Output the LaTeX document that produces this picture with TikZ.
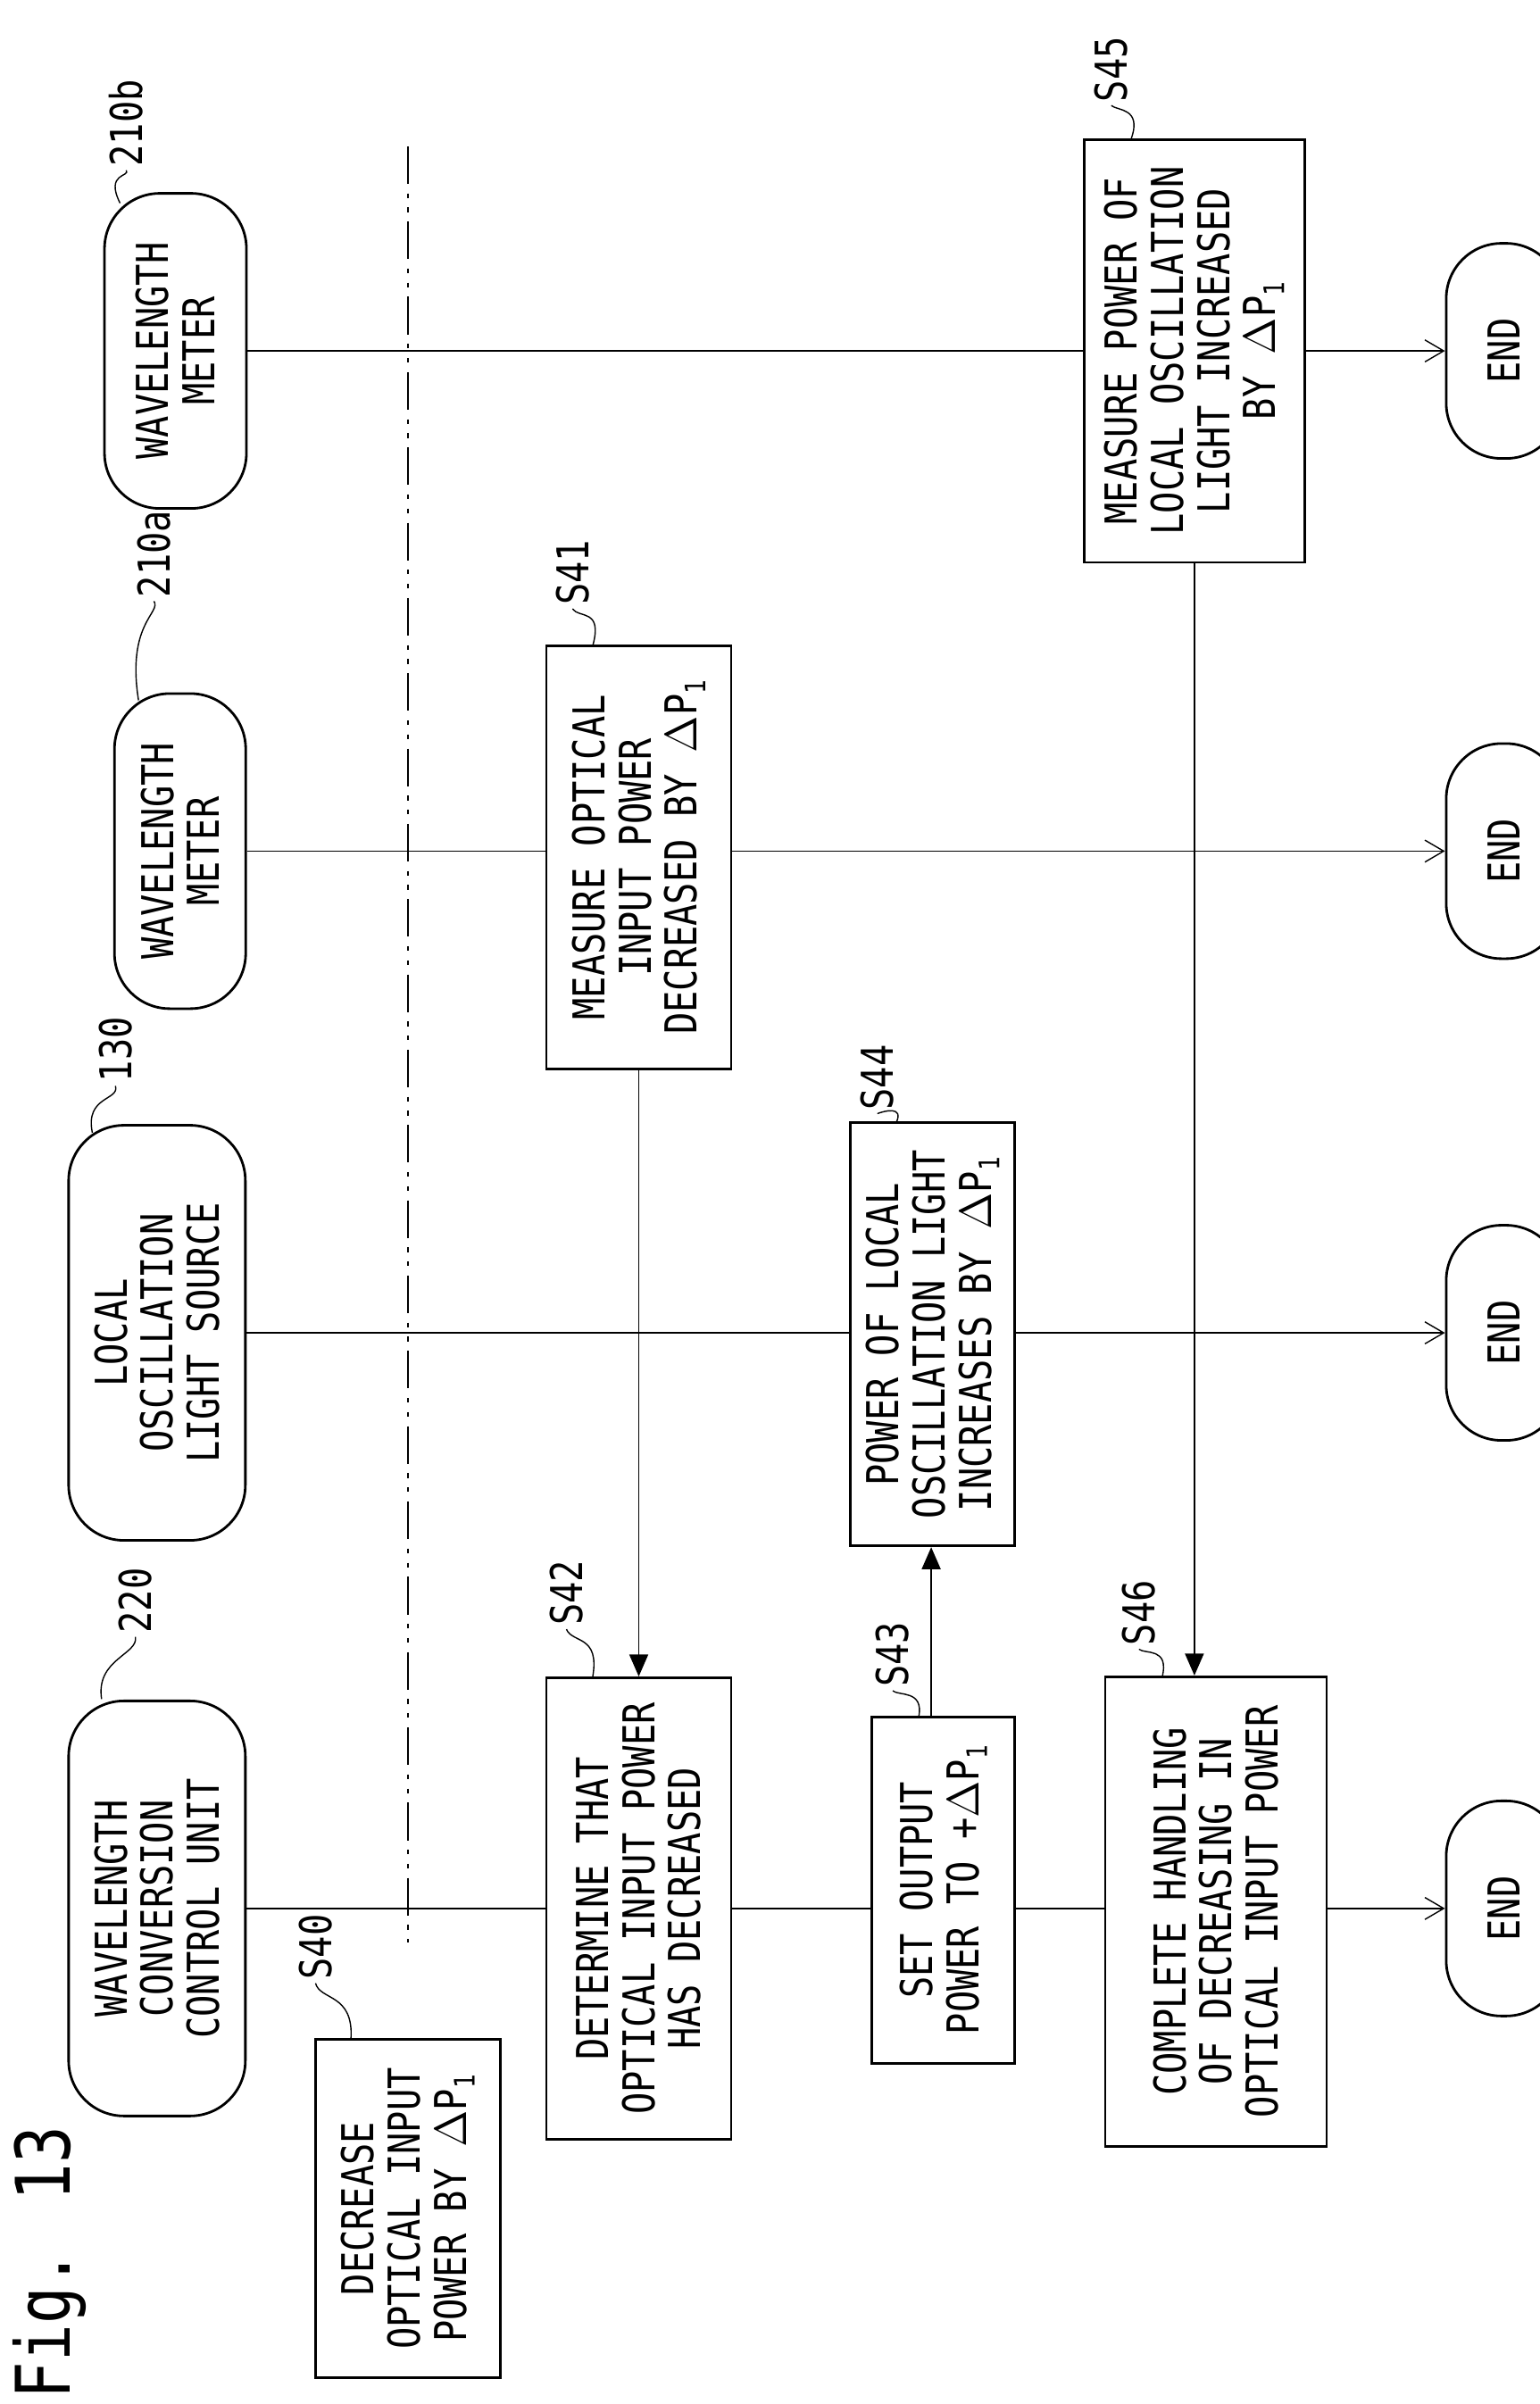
\documentclass[tikz,border=0pt]{standalone}
\usepackage{fontspec}
\usetikzlibrary{arrows.meta}
\setmainfont{DejaVu Sans Mono}[FakeStretch=0.82]
\newcommand{\lowone}{\raisebox{-0.35ex}{\fontsize{9}{9}\selectfont 1}}
\begin{document}
\begin{tikzpicture}[x=0.01724cm,y=-0.01724cm,
  every node/.style={font=\fontsize{14}{14.7}\selectfont},
  box/.style={draw,thick,fill=white,rotate=90,align=center,inner sep=2pt},
  term/.style={draw,thick,fill=white,rotate=90,align=center,rounded corners=0.62cm,inner sep=2pt},
  lab/.style={rotate=90,inner sep=1pt},
  arr/.style={thin,-{Straight Barb[length=6pt,width=7pt]}},
  farr/.style={thin,-{Triangle[length=7pt,width=6pt]}},
  lead/.style={thin}]
\useasboundingbox (0,0) rectangle (1000,1562);
\draw[thin,dash pattern=on 12pt off 3pt on 1.5pt off 3pt on 1.5pt off 3pt] (265,95) coordinate (dd1) -- (265,1262) coordinate (dd2);
\node[term,minimum width=4.65cm,minimum height=1.98cm] (T220) at (102,1240) {WAVELENGTH\\CONVERSION\\CONTROL UNIT};
\node[term,minimum width=4.65cm,minimum height=1.98cm] (T130) at (102,866) {LOCAL\\OSCILLATION\\LIGHT SOURCE};
\node[term,minimum width=3.53cm,minimum height=1.47cm] (T210a) at (117,553) {WAVELENGTH\\METER};
\node[term,minimum width=3.53cm,minimum height=1.59cm] (T210b) at (114,228) {WAVELENGTH\\METER};
\node[term,minimum width=2.41cm,minimum height=1.29cm] (E220) at (977,1240) {END};
\node[term,minimum width=2.41cm,minimum height=1.29cm] (E130) at (977,866) {END};
\node[term,minimum width=2.41cm,minimum height=1.29cm] (E210a) at (977,553) {END};
\node[term,minimum width=2.41cm,minimum height=1.29cm] (E210b) at (977,228) {END};
\draw[arr] (T220.south) -- (E220.north);
\draw[arr] (T130.south) -- (E130.north);
\draw[arr] (T210a.south) -- (E210a.north);
\draw[arr] (T210b.south) -- (E210b.north);
\node[box,minimum width=3.79cm,minimum height=2.07cm] (S40) at (265,1435) {DECREASE\\OPTICAL INPUT\\POWER BY $\Delta$P\lowone};
\node[box,minimum width=5.17cm,minimum height=2.07cm] (S42) at (415,1240) {DETERMINE THAT\\OPTICAL INPUT POWER\\HAS DECREASED};
\node[box,minimum width=4.74cm,minimum height=2.07cm] (S41) at (415,557) {MEASURE OPTICAL\\INPUT POWER\\DECREASED BY $\Delta$P\lowone};
\node[box,minimum width=3.88cm,minimum height=1.60cm] (S43) at (613,1228) {SET OUTPUT\\POWER TO +$\Delta$P\lowone};
\node[box,minimum width=4.74cm,minimum height=1.84cm] (S44) at (606,867) {POWER OF LOCAL\\OSCILLATION LIGHT\\INCREASES BY $\Delta$P\lowone};
\node[box,minimum width=5.26cm,minimum height=2.48cm] (S46) at (790,1242) {COMPLETE HANDLING\\OF DECREASING IN\\OPTICAL INPUT POWER};
\node[box,minimum width=4.74cm,minimum height=2.47cm] (S45) at (776,228) {MEASURE POWER OF\\LOCAL OSCILLATION\\LIGHT INCREASED\\BY $\Delta$P\lowone};
\draw[farr] (S41.west) -- (S42.east);
\coordinate (c43) at (605,1115);
\draw[farr] (c43) -- (c43 |- S44.west);
\draw[farr] (S45.west) -- (S45.west |- S46.east);
% labels
\node[lab] (L220) at (88,1040) {220};
\draw[lead] (L220.west) .. controls (90,1075) and (62,1078) .. (66,1104);
\node[lab] (L130) at (75,682) {130};
\draw[lead] (L130.west) .. controls (78,715) and (55,712) .. (60,736);
\node[lab] (L210a) at (100,360) {210a};
\draw[lead] (L210a.west) .. controls (105,398) and (82,405) .. (90,455);
\node[lab] (L210b) at (82,80) {210b};
\draw[lead] (L210b.west) .. controls (85,115) and (68,112) .. (78,132);
\node[lab] (L40) at (205,1265) {S40};
\draw[lead] (L40.west) .. controls (208,1300) and (230,1295) .. (228,1325);
\node[lab] (L42) at (368,1035) {S42};
\draw[lead] (L42.west) .. controls (372,1068) and (390,1062) .. (385,1090);
\node[lab] (L41) at (372,372) {S41};
\draw[lead] (L41.west) .. controls (376,402) and (392,395) .. (385,420);
\node[lab] (L44) at (570,700) {S44};
\draw[lead] (L44.west) .. controls (574,722) and (588,718) .. (582,730);
\node[lab] (L43) at (580,1075) {S43};
\draw[lead] (L43.west) .. controls (584,1102) and (600,1098) .. (597,1115);
\node[lab] (L46) at (740,1048) {S46};
\draw[lead] (L46.west) .. controls (744,1075) and (760,1070) .. (755,1090);
\node[lab] (L45) at (722,45) {S45};
\draw[lead] (L45.west) .. controls (726,72) and (742,70) .. (735,90);
\node[lab,font=\fontsize{24}{24}\selectfont] (fig) at (32,1470) {Fig. 13};
\end{tikzpicture}
\end{document}
